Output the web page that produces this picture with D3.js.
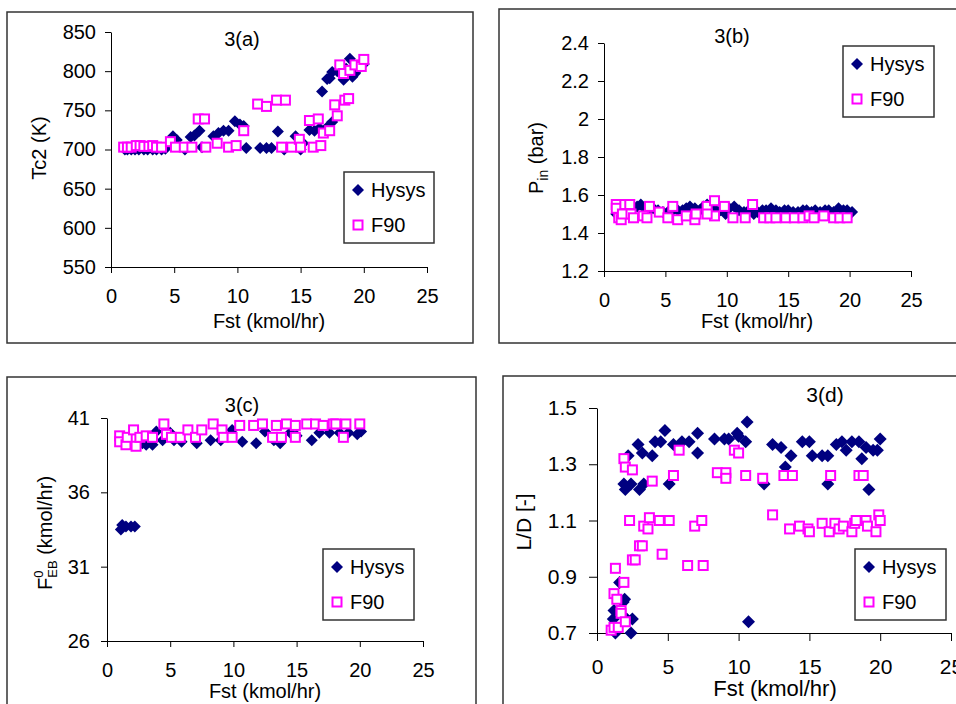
<!DOCTYPE html>
<html><head><meta charset="utf-8">
<script src="https://cdn.jsdelivr.net/npm/d3@7"></script>
<style>body{margin:0;background:#fff} svg{display:block} text{font-family:"Liberation Sans",Arial,sans-serif;fill:#000}</style>
</head><body><svg id="c" width="956" height="704"></svg>
<script>
// ---------- data ----------
const xTicks = [0, 5, 10, 15, 20, 25];
const yTicksA = [550, 600, 650, 700, 750, 800, 850];
const yTicksB = [1.2, 1.4, 1.6, 1.8, 2, 2.2, 2.4];
const yTicksC = [26, 31, 36, 41];
const yTicksD = [0.7, 0.9, 1.1, 1.3, 1.5];
const seriesNames = ["Hysys", "F90"];
const titles = ["3(a)", "3(b)", "3(c)", "3(d)"];
const xLabel = "Fst (kmol/hr)";

const hysysA = [[1.1,700],[1.3,700],[1.6,700],[1.9,700],[2.2,700],[2.6,700],[2.9,700],[3.3,700],[3.6,700],[4.0,700],[4.3,701],[4.9,717],[5.2,712],[5.85,700],[6.3,716],[6.6,718],[7.0,724],[7.2,703],[8.1,717],[8.5,721],[8.9,724],[9.3,724],[9.8,736],[10.2,732],[10.5,730],[10.7,702],[11.8,702],[12.3,702],[12.7,702],[13.2,723],[13.7,700],[14.6,717],[15.0,700],[15.2,708],[15.7,725],[16.1,724],[16.5,727],[16.7,774],[17.1,790],[17.3,791],[17.5,799],[17.2,730],[17.5,735],[17.9,800],[18.2,806],[18.4,789],[18.6,803],[18.9,816],[19.1,793],[19.3,797],[19.7,805],[20.0,809]];
const f90A = [[1.0,703],[1.3,703],[1.6,703],[2.0,705],[2.3,705],[2.6,704],[3.0,704],[3.3,705],[3.6,703],[4.0,703],[4.7,710],[5.1,703],[5.8,703],[6.4,703],[6.9,739],[7.4,739],[7.5,703],[8.4,708],[9.3,703],[9.9,705],[10.5,724],[11.6,758],[12.3,755],[13.1,763],[13.8,763],[13.5,703],[14.3,703],[14.9,713],[15.0,703],[15.7,737],[16.4,739],[16.0,703],[16.6,705],[16.8,721],[17.3,724],[17.7,757],[17.9,743],[18.5,763],[18.8,765],[18.1,808],[18.4,797],[18.9,801],[19.3,808],[19.8,806],[20.0,815]];

const hysysB = [[1.0,1.50],[1.3,1.53],[1.6,1.52],[2.0,1.54],[2.3,1.53],[2.7,1.54],[3.0,1.55],[3.3,1.53],[3.7,1.52],[4.0,1.53],[4.4,1.52],[4.8,1.51],[5.2,1.51],[5.6,1.52],[6.0,1.52],[6.4,1.52],[6.7,1.53],[7.0,1.54],[7.4,1.53],[7.8,1.52],[8.1,1.54],[8.4,1.55],[8.8,1.53],[9.1,1.52],[9.5,1.52],[9.9,1.50],[10.2,1.53],[10.6,1.54],[11.0,1.52],[11.4,1.51],[11.8,1.52],[12.2,1.50],[12.5,1.51],[12.9,1.52],[13.2,1.52],[13.6,1.53],[14.0,1.52],[14.3,1.51],[14.7,1.52],[15.0,1.52],[15.4,1.51],[15.8,1.51],[16.2,1.52],[16.5,1.52],[16.9,1.51],[17.2,1.52],[17.6,1.51],[18.0,1.52],[18.3,1.52],[18.7,1.51],[19.1,1.53],[19.5,1.52],[19.8,1.52],[20.2,1.51]];
const f90B = [[1.0,1.55],[1.0,1.53],[1.2,1.48],[1.4,1.47],[1.7,1.55],[2.1,1.55],[1.5,1.50],[2.2,1.50],[2.4,1.48],[3.2,1.49],[3.5,1.48],[3.7,1.54],[4.5,1.51],[5.2,1.48],[5.6,1.54],[6.0,1.47],[6.7,1.49],[7.4,1.47],[7.5,1.50],[8.4,1.54],[9.0,1.57],[9.0,1.49],[8.4,1.50],[9.8,1.54],[10.5,1.48],[11.5,1.48],[12.1,1.55],[13.0,1.48],[13.5,1.48],[14.0,1.48],[14.8,1.48],[15.5,1.48],[16.2,1.48],[16.7,1.49],[17.1,1.48],[17.9,1.49],[18.7,1.48],[19.2,1.48],[19.8,1.48]];

const hysysC = [[1.1,33.5],[1.2,33.8],[1.5,33.7],[1.9,33.7],[2.2,33.7],[2.5,39.2],[2.8,39.3],[3.1,39.2],[3.6,39.2],[3.9,40.1],[4.4,39.5],[5.0,40.0],[5.3,39.5],[5.9,39.4],[7.1,39.3],[8.2,39.5],[9.0,39.5],[9.9,40.2],[10.7,39.4],[11.8,39.3],[12.5,40.1],[13.2,39.5],[13.7,39.3],[14.5,40.0],[15.0,39.8],[16.2,39.5],[16.8,40.0],[17.6,40.0],[18.4,40.0],[19.1,40.0],[19.8,39.9],[20.1,40.1]];
const f90C = [[1.0,39.8],[1.0,39.4],[1.5,39.2],[1.6,39.7],[2.1,40.2],[2.3,39.1],[2.6,39.7],[3.1,39.8],[3.6,39.7],[4.5,40.6],[4.7,39.9],[5.1,39.7],[5.8,39.7],[6.4,40.2],[7.0,39.7],[7.5,40.2],[8.4,40.6],[9.1,40.2],[9.2,39.7],[9.9,39.7],[10.5,40.5],[11.6,40.5],[12.3,40.6],[13.1,39.7],[13.4,40.5],[13.8,39.7],[14.2,40.6],[14.9,40.5],[14.9,39.7],[15.8,40.6],[16.5,40.6],[17.1,40.5],[17.9,40.6],[18.1,40.6],[18.7,39.7],[18.9,40.6],[20.0,40.6]];

const hysysD = [[1.2,0.78],[1.15,0.75],[1.3,0.70],[1.27,0.72],[1.6,0.88],[1.85,0.81],[1.95,0.82],[2.1,0.75],[2.4,0.70],[2.5,0.75],[1.9,1.23],[2.0,1.21],[2.2,1.33],[2.4,1.23],[2.9,1.37],[3.0,1.21],[3.2,1.34],[3.3,1.23],[3.9,1.33],[4.1,1.38],[4.5,1.38],[4.8,1.42],[5.1,1.23],[5.4,1.37],[6.0,1.38],[6.5,1.38],[7.1,1.41],[7.1,1.34],[8.3,1.39],[9.0,1.39],[9.3,1.39],[9.9,1.41],[10.0,1.40],[10.5,1.38],[10.6,1.45],[10.7,0.74],[11.8,1.23],[12.4,1.37],[13.0,1.36],[13.3,1.29],[13.7,1.33],[14.5,1.38],[15.0,1.38],[15.2,1.33],[15.9,1.33],[16.3,1.23],[16.3,1.33],[16.9,1.37],[17.3,1.38],[17.6,1.35],[18.0,1.38],[18.5,1.38],[18.7,1.32],[19.0,1.36],[19.2,1.21],[19.5,1.35],[19.8,1.35],[20.0,1.39]];
const f90D = [[1.0,0.71],[1.2,0.72],[1.5,0.72],[1.2,0.84],[1.3,0.93],[1.4,0.82],[1.7,0.78],[1.7,0.77],[2.0,0.74],[1.9,0.88],[1.9,1.32],[2.0,1.29],[2.5,1.28],[2.3,1.10],[2.5,0.96],[2.7,0.96],[3.0,1.01],[3.2,1.01],[3.3,1.08],[3.6,1.07],[3.7,1.11],[3.9,1.24],[4.4,1.10],[4.6,0.98],[5.1,1.10],[5.4,1.26],[5.8,1.35],[6.4,0.94],[6.9,1.08],[7.4,1.10],[7.5,0.94],[8.5,1.27],[9.1,1.27],[9.1,1.25],[9.7,1.35],[10.0,1.34],[10.5,1.26],[11.7,1.25],[12.4,1.12],[13.2,1.26],[13.8,1.26],[13.6,1.07],[14.3,1.08],[14.9,1.07],[15.0,1.06],[15.9,1.09],[16.4,1.06],[16.5,1.26],[16.8,1.09],[17.1,1.07],[17.4,1.08],[18.0,1.06],[18.2,1.09],[18.3,1.10],[18.5,1.26],[18.8,1.26],[19.0,1.10],[19.1,1.08],[19.7,1.06],[19.9,1.12],[20.0,1.10]];

// ---------- layout ----------
const svg = d3.select("#c");
const NAVY = "#000080", MAG = "#ff00ff";

const panels = [
  {box:[7,12,473,343], xr:[111,427], yr:[267,32], yd:[550,850], yt:yTicksA, hy:hysysA, f9:f90A, fs:20, tick:6, ytp:9, xtp:16, title:titles[0], tp:[242,46], xl:[269,328], leg:[344,172,434,243], r:6, ylab:"a"},
  {box:[499,9,960,343], xr:[604,911], yr:[271,43], yd:[1.2,2.4], yt:yTicksB, hy:hysysB, f9:f90B, fs:20, tick:6, ytp:9, xtp:16, title:titles[1], tp:[732,43], xl:[757,328], leg:[843,46,934,117], r:6, ylab:"b"},
  {box:[7,377,476,710], xr:[107,423], yr:[641,418], yd:[26,41], yt:yTicksC, hy:hysysC, f9:f90C, fs:20, tick:6, ytp:11, xtp:16, title:titles[2], tp:[242,412], xl:[265,698], leg:[323,549,414,620], r:6, ylab:"c"},
  {box:[503,376,960,710], xr:[597,951], yr:[633,408], yd:[0.7,1.5], yt:yTicksD, hy:hysysD, f9:f90D, fs:21, tick:8, ytp:12, xtp:18, title:titles[3], tp:[825,402], xl:[775,696], leg:[855,549,946,620], r:6.5, ylab:"d", xfs:22}
];

function diamond(r){ return `M0,${-r}L${r},0L0,${r}L${-r},0Z`; }

function styleAxis(g, fs){
  g.selectAll("path.domain").attr("stroke","#000").attr("stroke-width",1);
  g.selectAll(".tick line").attr("stroke","#000").attr("stroke-width",1);
  g.selectAll("text").attr("font-size",fs).attr("font-family",'"Liberation Sans",Arial,sans-serif').attr("fill","#000");
}

panels.forEach(p => {
  const g = svg.append("g");
  g.append("rect").attr("x",p.box[0]).attr("y",p.box[1])
    .attr("width",p.box[2]-p.box[0]).attr("height",p.box[3]-p.box[1])
    .attr("fill","none").attr("stroke","#333").attr("stroke-width",1.5);

  const x = d3.scaleLinear().domain([0,25]).range(p.xr);
  const y = d3.scaleLinear().domain(p.yd).range(p.yr);

  const ya = g.append("g").attr("transform",`translate(${p.xr[0]},0)`)
    .call(d3.axisLeft(y).tickValues(p.yt).tickSize(p.tick).tickSizeOuter(0).tickPadding(p.ytp).tickFormat(d=>String(d)));
  styleAxis(ya, p.fs);
  const xa = g.append("g").attr("transform",`translate(0,${p.yr[0]})`)
    .call(d3.axisBottom(x).tickValues(xTicks).tickSize(p.tick).tickSizeOuter(0).tickPadding(p.xtp).tickFormat(d=>String(d)));
  styleAxis(xa, p.fs);

  // title
  g.append("text").attr("x",p.tp[0]).attr("y",p.tp[1]).attr("text-anchor","middle").attr("font-size",p.fs).text(p.title);
  // x label
  g.append("text").attr("x",p.xl[0]).attr("y",p.xl[1]).attr("text-anchor","middle").attr("font-size",p.xfs||20).text(xLabel);

  // y labels
  if (p.ylab==="a") {
    g.append("text").attr("transform","translate(46,148) rotate(-90)").attr("text-anchor","middle").attr("font-size",20).text("Tc2 (K)");
  } else if (p.ylab==="b") {
    const t = g.append("text").attr("transform","translate(543,158) rotate(-90)").attr("text-anchor","middle").attr("font-size",20);
    t.append("tspan").text("P");
    t.append("tspan").attr("font-size",14).attr("dy",5).text("in");
    t.append("tspan").attr("dy",-5).text(" (bar)");
  } else if (p.ylab==="c") {
    const t = g.append("text").attr("transform","translate(52,590) rotate(-90)").attr("text-anchor","start").attr("font-size",20);
    t.append("tspan").text("F");
    t.append("tspan").attr("font-size",13).attr("dy",-9).text("0");
    t.append("tspan").attr("font-size",13).attr("dx",-7.2).attr("dy",14).text("EB");
    t.append("tspan").attr("dy",-5).text(" (kmol/hr)");
  } else {
    g.append("text").attr("transform","translate(531,522) rotate(-90)").attr("text-anchor","middle").attr("font-size",21).text("L/D [-]");
  }

  // marks
  g.append("g").selectAll("path").data(p.hy).join("path")
    .attr("d",diamond(p.r)).attr("transform",d=>`translate(${x(d[0])},${y(d[1])})`).attr("fill",NAVY);
  g.append("g").selectAll("rect").data(p.f9).join("rect")
    .attr("x",d=>x(d[0])-4.5).attr("y",d=>y(d[1])-4.5).attr("width",9).attr("height",9)
    .attr("fill","#fff").attr("stroke",MAG).attr("stroke-width",2);

  // legend
  const L = p.leg;
  const lg = g.append("g");
  lg.append("rect").attr("x",L[0]).attr("y",L[1]).attr("width",L[2]-L[0]).attr("height",L[3]-L[1])
    .attr("fill","#fff").attr("stroke","#333").attr("stroke-width",1.5);
  const mx = L[0]+14, tx = L[0]+27;
  lg.append("path").attr("d",diamond(6)).attr("transform",`translate(${mx},${L[1]+18})`).attr("fill",NAVY);
  lg.append("rect").attr("x",mx-4.5).attr("y",L[1]+48.5).attr("width",9).attr("height",9).attr("fill","#fff").attr("stroke",MAG).attr("stroke-width",2);
  lg.append("text").attr("x",tx).attr("y",L[1]+25).attr("font-size",20).text(seriesNames[0]);
  lg.append("text").attr("x",tx).attr("y",L[1]+60).attr("font-size",20).text(seriesNames[1]);
});
</script></body></html>
